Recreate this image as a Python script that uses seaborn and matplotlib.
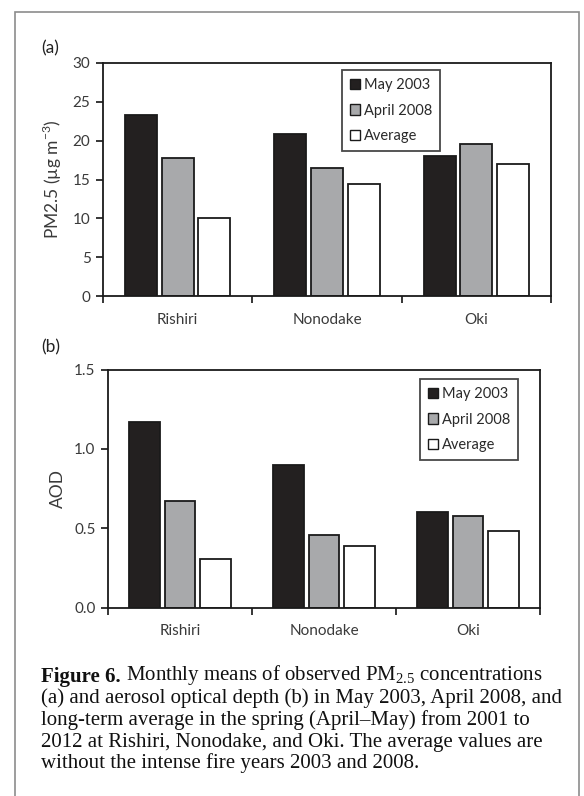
import numpy as np
import pandas as pd
import matplotlib.pyplot as plt
import matplotlib.patches as mpatches
from matplotlib.text import Annotation
import seaborn as sns

# Data
sites = ['Rishiri', 'Nonodake', 'Oki']
periods = ['May 2003', 'April 2008', 'Average']
pm25_may2003 = [23.3, 20.9, 18.0]
pm25_apr2008 = [17.8, 16.5, 19.6]
pm25_avg = [10.0, 14.4, 17.0]
aod_may2003 = [1.17, 0.90, 0.605]
aod_apr2008 = [0.672, 0.458, 0.576]
aod_avg = [0.303, 0.385, 0.481]

colors = ['#231f20', '#a7a9ac', '#ffffff']

def make_df(a, b, c):
    rows = []
    for p, vals in zip(periods, [a, b, c]):
        for s, v in zip(sites, vals):
            rows.append({'site': s, 'period': p, 'value': v})
    return pd.DataFrame(rows)

sns.set_style('ticks')
plt.rcParams['font.family'] = ['Lato', 'DejaVu Sans']
plt.rcParams['mathtext.fontset'] = 'custom'
plt.rcParams['mathtext.rm'] = 'Liberation Serif'
plt.rcParams['mathtext.sf'] = 'Lato'

fig = plt.figure(figsize=(5.84, 7.96), dpi=100)
W, H = 584, 796

# outer frame
fig.patches.append(mpatches.Rectangle((15 / W, -0.01), 564 / W, 1 - 12 / H + 0.01,
                                      transform=fig.transFigure, fill=False,
                                      edgecolor='#8c8c8c', linewidth=1.2))

txt = '#3a3a3a'

def panel(rect, df, ylim, yticks, yfmt, ylabel, legend_pos):
    ax = fig.add_axes(rect)
    sns.barplot(data=df, x='site', y='value', hue='period', palette=colors,
                edgecolor='#1a1a1a', linewidth=1.3, width=0.735, gap=0.13,
                ax=ax)
    ax.set_xlim(-0.5, 2.5)
    ax.set_ylim(*ylim)
    ax.set_yticks(yticks)
    ax.set_yticklabels([yfmt.format(t) for t in yticks])
    ax.set_xticks([-0.5, 0.5, 1.5, 2.5])
    ax.set_xticklabels([])
    ax.set_xticks([0, 1, 2], minor=True)
    ax.set_xticklabels(sites, minor=True)
    ax.tick_params(axis='x', which='major', length=5, width=1.3, direction='out')
    ax.tick_params(axis='x', which='minor', length=0, pad=12, labelsize=11,
                   labelcolor=txt)
    ax.tick_params(axis='y', length=5, width=1.3, direction='out', labelsize=11,
                   labelcolor=txt, pad=4)
    for sp in ax.spines.values():
        sp.set_visible(True)
        sp.set_color('#1a1a1a')
        sp.set_linewidth(1.3)
    ax.set_xlabel('')
    ax.set_ylabel(ylabel, fontsize=12.5, color=txt, labelpad=6)
    leg = ax.legend(loc='upper left', bbox_to_anchor=legend_pos, frameon=True,
                    fancybox=False, edgecolor='#1a1a1a', fontsize=10.5,
                    handlelength=0.7, handleheight=0.7, handletextpad=0.25,
                    labelspacing=0.8, borderpad=0.55, borderaxespad=0)
    leg.get_frame().set_linewidth(1.3)
    for h in leg.legend_handles:
        h.set_edgecolor('#1a1a1a')
        h.set_linewidth(1.0)
    for t in leg.get_texts():
        t.set_color('#2a2a2a')
    return ax

ax1 = panel([103 / W, 1 - 296 / H, 448 / W, 233 / H],
            make_df(pm25_may2003, pm25_apr2008, pm25_avg),
            (0, 30), [0, 5, 10, 15, 20, 25, 30], '{:g}',
            'PM2.5 (\u00b5g m$^{\\mathsf{-3}}$)', (0.533, 0.970))
ax2 = panel([108 / W, 1 - 607.5 / H, 432 / W, 238 / H],
            make_df(aod_may2003, aod_apr2008, aod_avg),
            (0, 1.5), [0, 0.5, 1.0, 1.5], '{:.1f}',
            'AOD', (0.722, 0.960))

fig.text(41 / W, 1 - 48 / H, '(a)', fontsize=12.5, va='center', color='#222222')
fig.text(41 / W, 1 - 347 / H, '(b)', fontsize=12.5, va='center', color='#222222')

# caption
serif = ['Liberation Serif', 'DejaVu Serif']
cap_lines = [
    r'Monthly means of observed PM$_{\mathrm{2.5}}$ concentrations',
    '(a) and aerosol optical depth (b) in May 2003, April 2008, and',
    'long-term average in the spring (April\u2013May) from 2001 to',
    '2012 at Rishiri, Nonodake, and Oki. The average values are',
    'without the intense fire years 2003 and 2008.',
]
x0 = 41 / W
y = 682
fs = 15
t = fig.text(x0, 1 - y / H, 'Figure 6.', fontsize=fs, fontweight='bold',
             family=serif, va='baseline', color='#111111')
a = Annotation(' ' + cap_lines[0], xy=(1, 0), xycoords=t, fontsize=fs,
               family=serif, va='bottom', ha='left', color='#111111')
fig.add_artist(a)
for i, line in enumerate(cap_lines[1:], start=1):
    fig.text(x0, 1 - (y + 21.5 * i) / H, line, fontsize=fs, family=serif,
             va='baseline', color='#111111')

fig.savefig('out.png', dpi=100)
